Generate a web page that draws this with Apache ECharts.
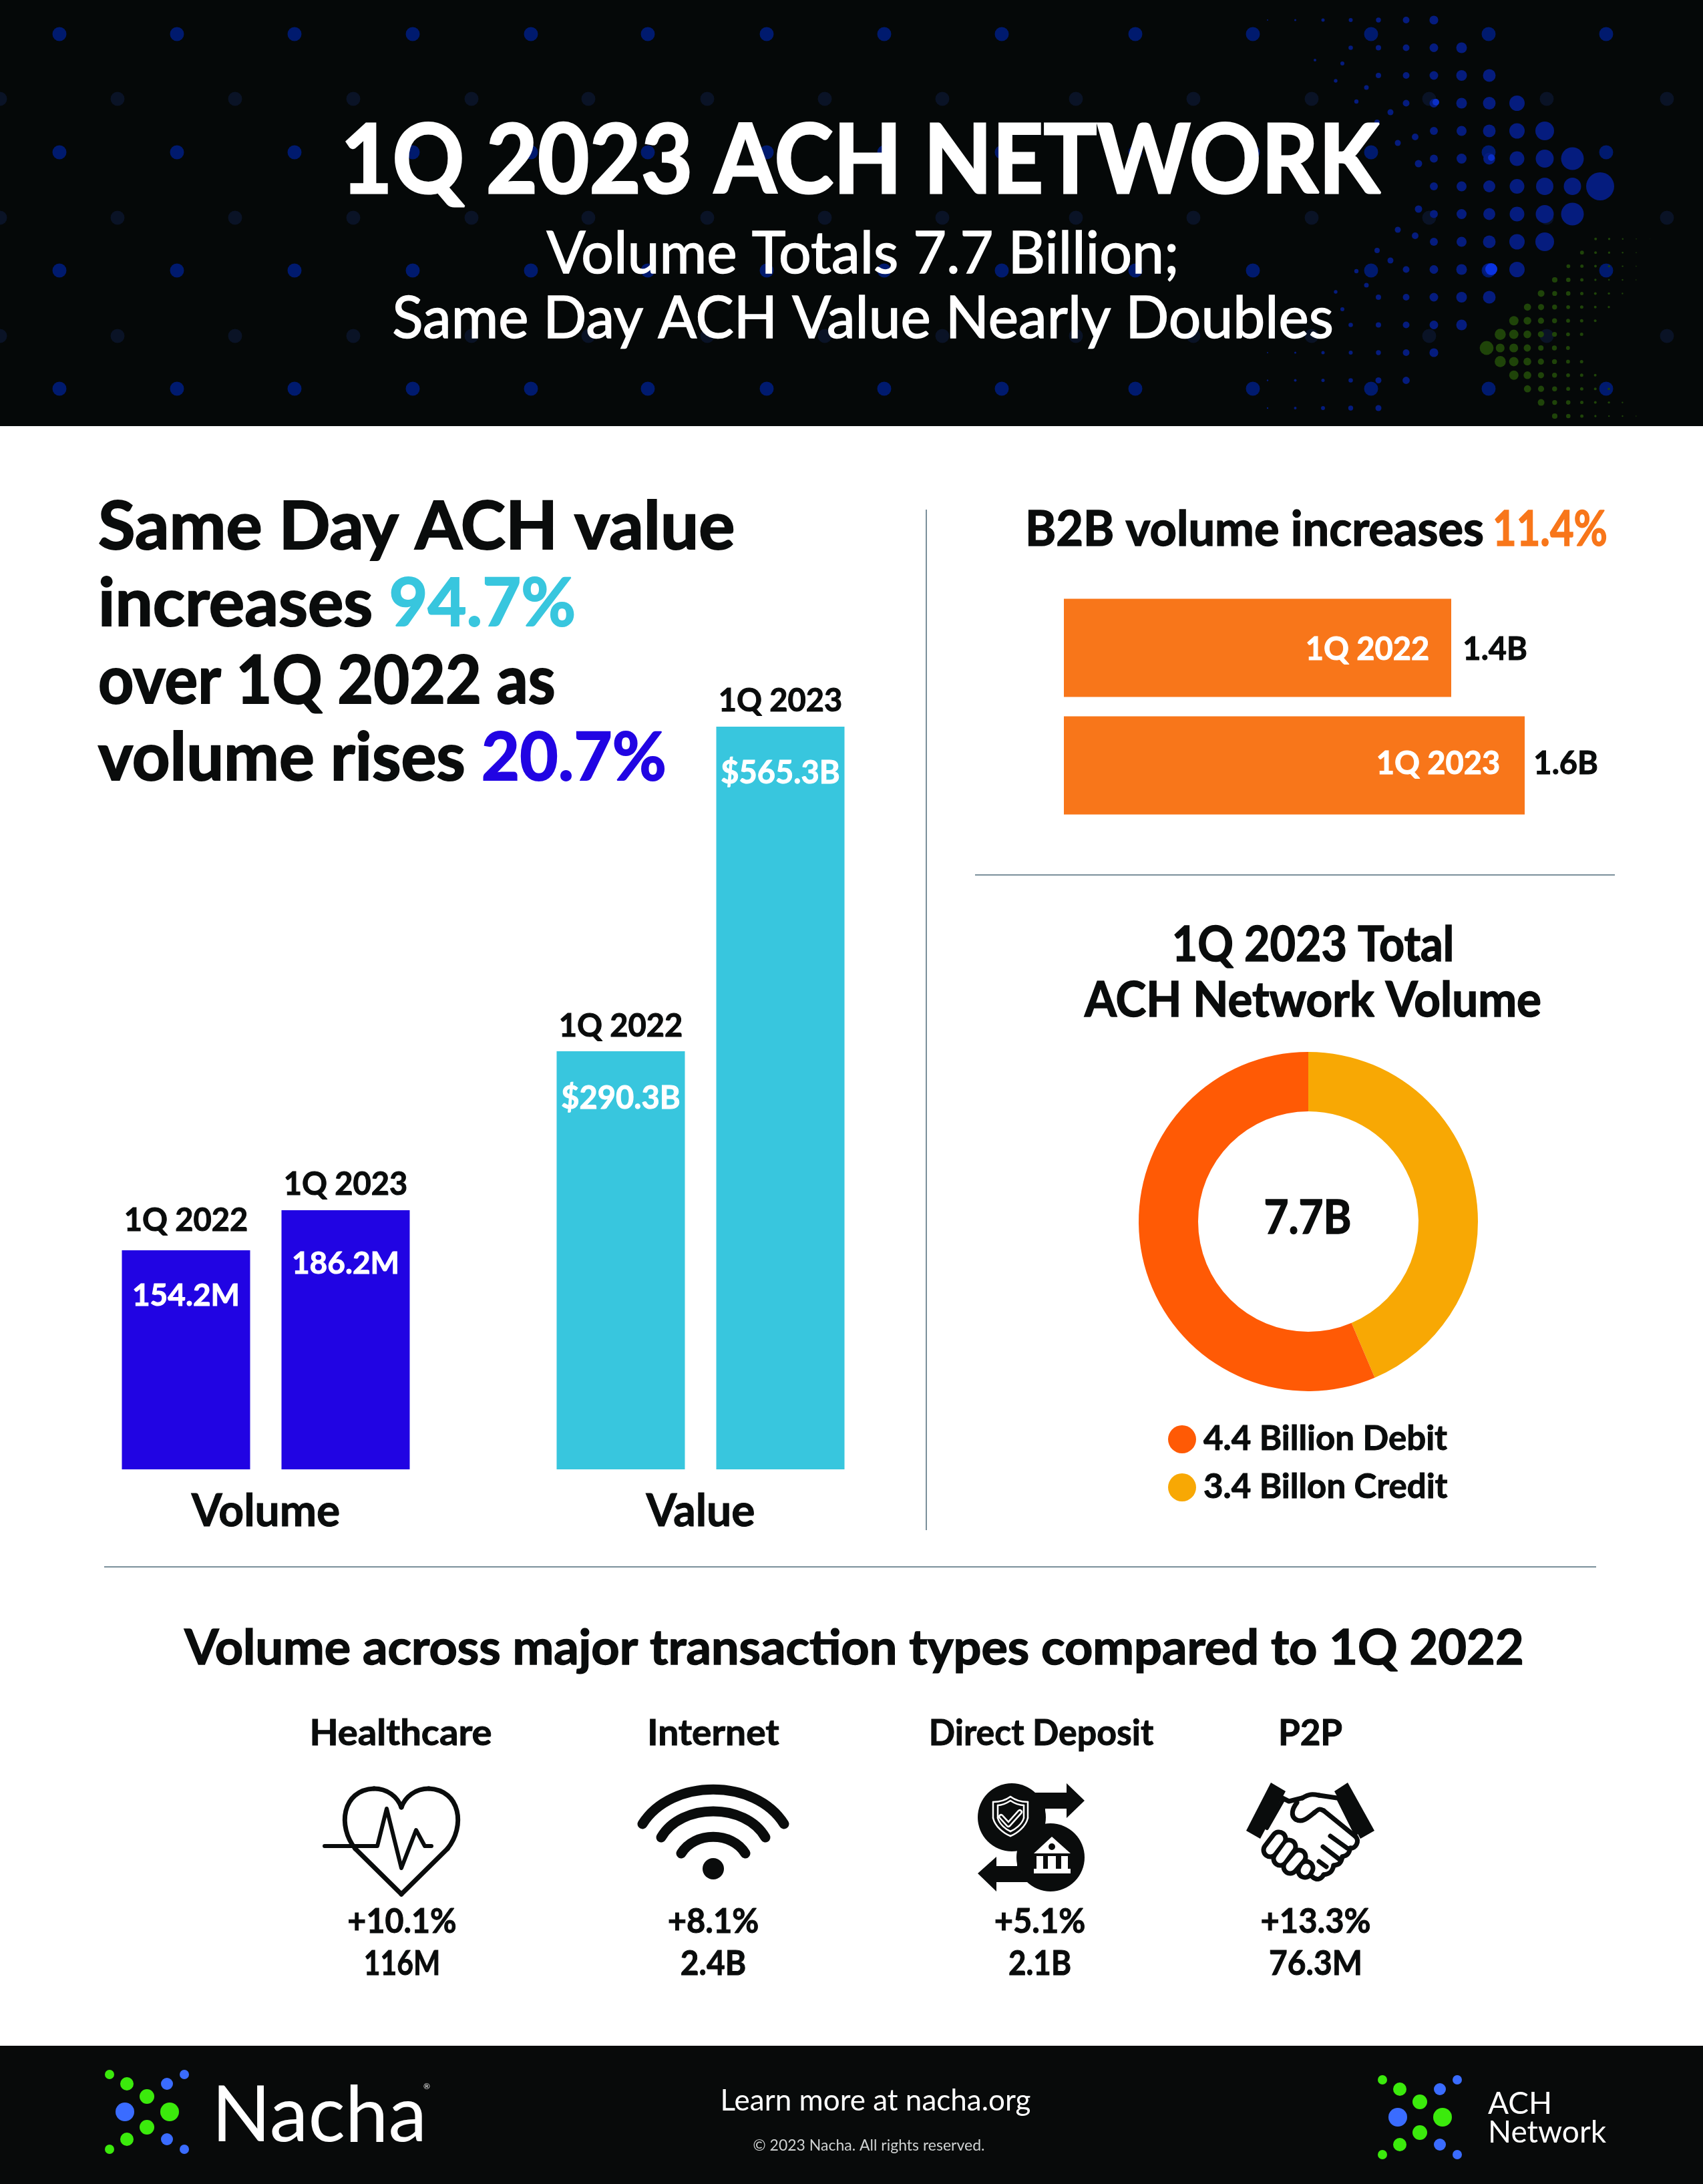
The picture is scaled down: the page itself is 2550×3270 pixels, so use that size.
<!DOCTYPE html>
<html>
<head>
<meta charset="utf-8">
<title>1Q 2023 ACH Network</title>
<script src="https://cdn.jsdelivr.net/npm/echarts@6/dist/echarts.min.js"></script>
<style>
  html, body { margin: 0; padding: 0; background: #fff; }
  #chart { width: 2550px; height: 3270px; }
</style>
</head>
<body>
<div id="chart"></div>
<script>
// chart data
const quarterLabels = ['1Q 2022', '1Q 2023'];
const volumeValues = [154.2, 186.2];
const valueValues = [290.3, 565.3];
const b2bValues = [1.4, 1.6];
const donutNames = ['3.4 Billon Credit', '4.4 Billion Debit'];
const donutValues = [3.4, 4.4];
const typeNames = ['Healthcare', 'Internet', 'Direct Deposit', 'P2P'];
const typeChanges = ['+10.1%', '+8.1%', '+5.1%', '+13.3%'];
const typeVolumes = ['116M', '2.4B', '2.1B', '76.3M'];

const FONT = 'Lato, "Noto Sans", sans-serif';
const INK = '#0a0c0c';
const BLUE = '#2104e3';
const CYAN = '#38c6de';
const ORANGE = '#f8761a';
const DARK = '#050808';
const LINE = '#7b909b';

const chart = echarts.init(document.getElementById('chart'), null, { renderer: 'canvas' });

// text helper, sx squeezes the glyphs to the width of the reference font, bold thickens them
function txt(text, x, y, size, weight, fill, align, sx, bold) {
  return {
    type: 'text', x: x, y: y, z: 10, scaleX: sx || 1,
    style: {
      text: text, fill: fill || INK, align: align || 'center', verticalAlign: 'middle',
      font: weight + ' ' + size + 'px ' + FONT,
      stroke: bold ? (fill || INK) : null, lineWidth: bold || 0
    }
  };
}

function rich(text, x, y, size, colors, sx, bold) {
  const r = {};
  Object.keys(colors).forEach(k => {
    r[k] = { fill: colors[k], font: '700 ' + size + 'px ' + FONT, stroke: colors[k], lineWidth: bold || 0 };
  });
  return { type: 'text', x: x, y: y, z: 10, scaleX: sx || 1, style: { text: text, rich: r, align: 'left', verticalAlign: 'middle' } };
}

function rect(x, y, w, h, fill, z) {
  return { type: 'rect', z: z || 0, shape: { x: x, y: y, width: w, height: h }, style: { fill: fill } };
}

function dot(cx, cy, r, fill, z) {
  return { type: 'circle', z: z || 1, shape: { cx: cx, cy: cy, r: r }, style: { fill: fill || INK } };
}

// the graphic component has no free path type, so split the outline into polylines and beziers
function stroke(d, w, color, z) {
  const st = { stroke: color || INK, lineWidth: w, lineCap: 'round', lineJoin: 'round', fill: null };
  const nums = d.match(/[MLC]|-?[\d.]+/g);
  const out = [];
  let pts = [], i = 0, cmd = '';
  const flush = () => {
    if (pts.length > 1) out.push({ type: 'polyline', z: z || 5, shape: { points: pts }, style: st });
    pts = pts.length ? [pts[pts.length - 1]] : [];
  };
  while (i < nums.length) {
    if (/[MLC]/.test(nums[i])) { cmd = nums[i]; i++; }
    if (cmd === 'M' || cmd === 'L') {
      pts.push([+nums[i], +nums[i + 1]]);
      i += 2;
    } else {
      const p = pts[pts.length - 1];
      flush();
      out.push({
        type: 'bezierCurve', z: z || 5, style: st,
        shape: { x1: p[0], y1: p[1], cpx1: +nums[i], cpy1: +nums[i + 1], cpx2: +nums[i + 2], cpy2: +nums[i + 3], x2: +nums[i + 4], y2: +nums[i + 5] }
      });
      pts = [[+nums[i + 4], +nums[i + 5]]];
      i += 6;
    }
  }
  flush();
  return out;
}

function solid(points, color, z) {
  return { type: 'polygon', z: z || 5, shape: { points: points }, style: { fill: color || INK } };
}

// header dot pattern, background only
const blueRowSizes = [
  [21, 13, 13, 11, 9, 7.5, 6],
  [17, 13.5, 11, 9, 7.5, 6],
  [14, 11.5, 9.5, 7.5, 6],
  [11.5, 9.5, 8, 6.5, 5],
  [9.5, 8, 6.5, 5, 4],
  [8, 6.5, 5, 4, 3.3],
  [6.6, 5, 3.7, 3, 2.5, 1.6, 1],
  [5.4, 4.5, 3.3, 2.5, 2, 1.2],
  [4.5, 3.7, 3, 2, 1.2]
];
const greenRowSizes = [
  [10.4, 6.6, 6.6, 5.4, 4.1, 3.7, 2.9],
  [8.3, 7, 5.8, 4.6, 3.7, 2.9, 2.5],
  [7, 5.8, 4.6, 3.7, 2.9, 2.5, 2],
  [5.4, 4.6, 3.7, 2.9, 2.5, 2, 1.7],
  [5, 3.7, 3.3, 2.5, 2, 1.7, 1.2],
  [4.1, 3.3, 2.5, 1.7, 1.2, 1.2, 0.8],
  [2.9, 2.5, 2, 1.7, 1.2, 0.8],
  [2.9, 2, 1.7, 1.2, 0.8],
  [2, 1.7, 1.2, 0.8, 0.4]
];
const blueTail = [[2124, 245, 5.5], [2093, 214, 4.5], [2119, 205, 5], [2082, 168, 4.5], [2062, 183, 4], [2031, 152, 3.2], [2046, 131, 3.5], [2000, 121, 2.7], [2010, 95, 3], [1969, 90, 2]];

function headerDots() {
  const out = [];
  const xs = [89, 265, 441, 618, 795, 970, 1148, 1324, 1500, 1700, 1876, 2053, 2229, 2405];
  [51, 228, 405, 582].forEach(y => xs.forEach(x => out.push(dot(x, y, 10.5, '#001a6e'))));
  [148, 326, 503].forEach(y => {
    xs.forEach(x => out.push(dot(x - 89, y, 10.5, '#0a1326')));
    out.push(dot(2496, y, 10.5, '#0a1326'));
  });
  for (let row = -6; row <= 8; row++) {
    const k = Math.abs(row);
    blueRowSizes[k].forEach((r, j) => out.push(dot(2396 - (k + j) * 41.5, 279 + row * 41.5, r, '#051c7e', 2)));
  }
  blueTail.forEach(d => {
    out.push(dot(d[0], d[1], d[2], '#051c7e', 2));
    out.push(dot(d[0], 558 - d[1], d[2], '#051c7e', 2));
  });
  // brighter spots where the two dot layers overlap
  out.push(dot(2233, 403, 9, '#0a33e0', 3), dot(2233, 236, 5, '#0a2fc8', 3), dot(2150, 153, 5, '#0a2fc8', 3));
  for (let row = -8; row <= 5; row++) {
    const k = Math.abs(row);
    greenRowSizes[k].forEach((r, j) => out.push(dot(2226 + k * 20.4 + j * 20.3, 521 + row * 20.4, r, '#1f4409', 3)));
  }
  return out;
}

function logoDots(dx, dy) {
  const g = '#3bea0c', b = '#3a6cff';
  const list = [
    [164, 3106, 7, g], [190, 3120, 10, g], [220, 3139, 11, g], [254, 3162, 14, g],
    [220, 3185, 11, g], [190, 3203, 10, g], [164, 3218, 7, g],
    [276, 3106, 7, b], [250, 3120, 9, b], [187, 3162, 14, b], [250, 3203, 9, b], [276, 3218, 7, b]
  ];
  return list.map(d => dot(d[0] + dx, d[1] + dy, d[2], d[3]));
}

function heartIcon() {
  return [
    ...stroke('M601 2836 L532 2768 C505 2735 512 2680 560 2678 C580 2678 595 2690 601 2706 C607 2690 622 2678 642 2678 C690 2680 697 2735 670 2768 L601 2836', 7),
    ...stroke('M486 2764 L565 2764 L579 2708 L601 2797 L623 2740 L636 2764 L646 2764', 6)
  ];
}

function wifiIcon() {
  return [
    ...stroke('M962 2731 C1005 2662 1131 2662 1174 2731', 15),
    ...stroke('M990 2751 C1020 2699 1116 2699 1146 2751', 15),
    ...stroke('M1020 2775 C1040 2742 1096 2742 1116 2775', 15),
    dot(1068, 2798, 16, INK, 5)
  ];
}

function depositIcon() {
  return [
    dot(1515, 2721, 51, INK, 5),
    dot(1573, 2781, 51, INK, 5),
    rect(1523, 2700, 42, 95, INK, 5),
    solid([[1530, 2684], [1597, 2684], [1597, 2670], [1624, 2696], [1597, 2722], [1597, 2708], [1530, 2708]]),
    solid([[1550, 2794], [1492, 2794], [1492, 2780], [1464, 2805], [1492, 2832], [1492, 2818], [1550, 2818]]),
    ...stroke('M1513 2690 C1505 2696 1495 2698 1487 2698 L1487 2722 C1490 2735 1503 2745 1513 2749 C1523 2745 1536 2735 1539 2722 L1539 2698 C1531 2698 1521 2696 1513 2690', 2.5, '#fff', 6),
    ...stroke('M1513 2696 C1507 2700 1500 2703 1494 2703 L1494 2722 C1497 2732 1506 2739 1513 2742 C1520 2739 1530 2732 1533 2722 L1533 2703 C1526 2703 1519 2700 1513 2696', 2.5, '#fff', 6),
    ...stroke('M1499 2720 L1510 2732 L1527 2713', 8, '#fff', 6),
    ...stroke('M1499 2720 L1510 2732 L1527 2713', 3, INK, 7),
    solid([[1575, 2750], [1548, 2775], [1603, 2775]], '#fff', 6),
    dot(1575, 2765, 5, INK, 7),
    rect(1552, 2779, 10, 20, '#fff', 6),
    rect(1569, 2779, 12, 20, '#fff', 6),
    rect(1589, 2779, 10, 20, '#fff', 6),
    rect(1548, 2798, 55, 7, '#fff', 6)
  ];
}

function handshakeIcon() {
  const out = [
    solid([[1903, 2669], [1925, 2682], [1887, 2753], [1866, 2741]]),
    solid([[2018, 2669], [1998, 2682], [2037, 2753], [2058, 2741]]),
    ...stroke('M1920 2692 L1930 2697 L1950 2692 C1960 2686 1965 2686 1975 2688 L2002 2692', 7),
    ...stroke('M1921 2695 L1897 2737', 6),
    ...stroke('M2005 2695 L2030 2745', 6),
    ...stroke('M1942 2699 C1935 2708 1932 2718 1940 2724 C1950 2730 1958 2722 1968 2714 C1975 2708 1976 2708 1982 2711 L2030 2750 C2036 2757 2030 2768 2022 2767', 7),
    ...stroke('M1992 2749 L2017 2767', 7),
    ...stroke('M1981 2765 L2007 2785', 7),
    ...stroke('M1975 2787 L1986 2795', 7),
    ...stroke('M2022 2767 C2020 2775 2018 2778 2010 2780 C2008 2790 2005 2792 1997 2793 C1995 2803 1990 2806 1982 2807 C1978 2814 1972 2816 1965 2810', 7)
  ];
  // left hand fingers as outlined capsules
  const fingers = [[1915, 2753, 1902, 2770], [1930, 2765, 1917, 2783], [1945, 2780, 1932, 2795], [1956, 2797, 1954, 2801]];
  fingers.forEach(f => {
    const d = 'M' + f[0] + ' ' + f[1] + ' L' + f[2] + ' ' + f[3];
    out.push(...stroke(d, 27, INK, 6));
  });
  fingers.forEach(f => {
    const d = 'M' + f[0] + ' ' + f[1] + ' L' + f[2] + ' ' + f[3];
    out.push(...stroke(d, 13, '#fff', 7));
  });
  return out;
}

const typeCenters = [600, 1068, 1559, 1962];
const statCenters = [602, 1068, 1557, 1970];
const nameSqueeze = [1.04, 1.02, 0.96, 0.98];
const changeSqueeze = [0.93, 0.94, 0.94, 0.94];
const volumeSqueeze = [0.82, 0.92, 0.88, 0.92];

const graphics = [
  rect(0, 0, 2550, 638, DARK),
  rect(0, 3063, 2550, 207, '#080a0a'),
  ...headerDots(),
  txt('1Q 2023 ACH NETWORK', 1288, 243, 143, 700, '#fff', 'center', 0.933, 3),
  txt('Volume Totals 7.7 Billion;', 1292, 381, 88, 400, '#fff', 'center', 0.978, 1.5),
  txt('Same Day ACH Value Nearly Doubles', 1292, 478, 88, 400, '#fff', 'center', 0.974, 1.5),

  rich('{k|Same Day ACH value}', 147, 790, 100, { k: INK }, 1.015, 2),
  rich('{k|increases }{c|94.7%}', 147, 905, 100, { k: INK, c: CYAN }, 1, 2),
  rich('{k|over 1Q 2022 as}', 147, 1021, 100, { k: INK }, 0.93, 2),
  rich('{k|volume rises }{c|20.7%}', 147, 1136, 100, { k: INK, c: BLUE }, 0.99, 2),

  rect(1386, 763, 2, 1528, LINE),
  rect(1460, 1309, 958, 2, LINE),
  rect(156, 2345, 2234, 2, LINE),

  rich('{k|B2B volume increases}', 1535, 794, 72, { k: INK }, 0.977, 1.5),
  rich('{c|11.4%}', 2235, 794, 72, { c: ORANGE }, 0.854, 1.5),
  txt('1Q 2023 Total', 1966, 1416, 72, 700, INK, 'center', 0.922, 1.5),
  txt('ACH Network Volume', 1966, 1499, 72, 700, INK, 'center', 0.96, 1.5),
  txt('7.7B', 1958, 1824, 70, 700, INK, 'center', 0.91, 1.5),

  txt('Volume across major transaction types compared to 1Q 2022', 1279, 2469, 72, 700, INK, 'center', 1.024, 1.5),
  ...typeNames.map((n, i) => txt(n, typeCenters[i], 2596, 54, 700, INK, 'center', nameSqueeze[i], 1)),
  ...typeChanges.map((n, i) => txt(n, statCenters[i], 2877, 52, 700, INK, 'center', changeSqueeze[i], 1)),
  ...typeVolumes.map((n, i) => txt(n, statCenters[i], 2940, 52, 700, INK, 'center', volumeSqueeze[i], 1)),
  ...heartIcon(), ...wifiIcon(), ...depositIcon(), ...handshakeIcon(),

  ...logoDots(0, 0),
  ...logoDots(1906, 8),
  txt('Nacha', 317, 3169, 116, 400, '#fff', 'left'),
  txt('®', 634, 3124, 12, 400, '#fff', 'left'),
  txt('Learn more at nacha.org', 1311, 3146, 44, 400, '#fff'),
  txt('© 2023 Nacha. All rights reserved.', 1301, 3213, 23, 400, '#cfd2d2'),
  txt('ACH', 2228, 3150, 46, 400, '#fff', 'left'),
  txt('Network', 2228, 3193, 46, 400, '#fff', 'left')
];

// The bars in the reference are not all drawn to one scale, so every bar
// gets its own hidden value axis; the data stays the labelled values.
const grids = [], xAxes = [], yAxes = [], series = [];

function columnGroup(left, name, values, fmt, tops, yearOffsets, lineHeights, fontSizes, color) {
  const gridIndex = grids.length;
  grids.push({ left: left, top: 1002, width: 478, height: 1198, containLabel: false });
  xAxes.push({
    type: 'category', gridIndex: gridIndex, data: quarterLabels,
    name: name, nameLocation: 'middle', nameGap: 31,
    nameTextStyle: { fontFamily: FONT, fontSize: 66, fontWeight: 700, color: INK, textBorderColor: INK, textBorderWidth: 1 },
    axisLine: { show: false }, axisTick: { show: false }, axisLabel: { show: false }, splitLine: { show: false }
  });
  values.forEach((v, i) => {
    yAxes.push({ type: 'value', gridIndex: gridIndex, min: 0, max: v * 1198 / tops[i], show: false, splitLine: { show: false } });
    const data = [null, null];
    data[i] = v;
    series.push({
      type: 'bar', name: name + ' ' + quarterLabels[i], xAxisIndex: gridIndex, yAxisIndex: yAxes.length - 1,
      data: data, barWidth: 192, barGap: '-100%', silent: true, animation: false,
      itemStyle: { color: color },
      label: {
        show: true, position: 'insideTop', distance: 0, offset: [0, yearOffsets[i]],
        formatter: () => '{y|' + quarterLabels[i] + '}\n{v|' + fmt(v) + '}',
        rich: {
          y: { fontFamily: FONT, fontSize: 47, fontWeight: 700, color: INK, lineHeight: 110, align: 'center', textBorderColor: INK, textBorderWidth: 1 },
          v: { fontFamily: FONT, fontSize: fontSizes, fontWeight: 700, color: '#fff', lineHeight: lineHeights[i], align: 'center', textBorderColor: '#fff', textBorderWidth: 1 }
        }
      }
    });
  });
}

columnGroup(159, 'Volume', volumeValues, v => v + 'M', [328, 388], [-99, -93], [114, 126], 46, BLUE);
columnGroup(810, 'Value', valueValues, v => '$' + v + 'B', [626, 1112], [-92, -93], [106, 106], 47, CYAN);

// B2B horizontal bars
const b2bGrid = grids.length;
grids.push({ left: 1593, top: 882, width: 800, height: 352, containLabel: false });
yAxes.push({
  type: 'category', gridIndex: b2bGrid, data: quarterLabels, inverse: true,
  axisLine: { show: false }, axisTick: { show: false }, axisLabel: { show: false }
});
const b2bCat = yAxes.length - 1;
const b2bWidths = [580, 690];
const b2bOffsets = [114, 110];
b2bValues.forEach((v, i) => {
  xAxes.push({ type: 'value', gridIndex: b2bGrid, min: 0, max: v * 800 / b2bWidths[i], show: false, splitLine: { show: false } });
  const data = [null, null];
  data[i] = v;
  series.push({
    type: 'bar', name: 'B2B ' + quarterLabels[i], xAxisIndex: xAxes.length - 1, yAxisIndex: b2bCat,
    data: data, barWidth: 147, barGap: '-100%', silent: true, animation: false,
    itemStyle: { color: ORANGE },
    label: {
      show: true, position: 'insideRight', distance: 0, offset: [b2bOffsets[i], i === 0 ? 3 : -2],
      formatter: () => '{y|' + quarterLabels[i] + '}{v|' + v.toFixed(1) + 'B}',
      rich: {
        y: { fontFamily: FONT, fontSize: 47, fontWeight: 700, color: '#fff', textBorderColor: '#fff', textBorderWidth: 1 },
        v: { fontFamily: FONT, fontSize: 47, fontWeight: 700, color: INK, padding: [0, 0, 0, 50], textBorderColor: INK, textBorderWidth: 1 }
      }
    }
  });
});

// donut
series.push({
  type: 'pie', name: 'Total volume', center: [1959, 1829], radius: [165, 254],
  startAngle: 90, clockwise: true, silent: true, animation: false,
  label: { show: false }, labelLine: { show: false },
  data: donutNames.map((n, i) => ({ name: n, value: donutValues[i], itemStyle: { color: i === 0 ? '#f8a804' : '#ff5a05' } }))
});

chart.setOption({
  backgroundColor: '#ffffff',
  animation: false,
  textStyle: { fontFamily: FONT },
  legend: {
    orient: 'vertical', left: 1744, top: 2124, itemGap: 20, itemWidth: 42, itemHeight: 44,
    icon: 'circle', selectedMode: false, data: [donutNames[1], donutNames[0]],
    textStyle: { fontFamily: FONT, fontSize: 51, fontWeight: 700, color: INK, textBorderColor: INK, textBorderWidth: 1, padding: [0, 0, 0, 6] }
  },
  grid: grids,
  xAxis: xAxes,
  yAxis: yAxes,
  series: series,
  graphic: graphics
});
</script>
</body>
</html>
